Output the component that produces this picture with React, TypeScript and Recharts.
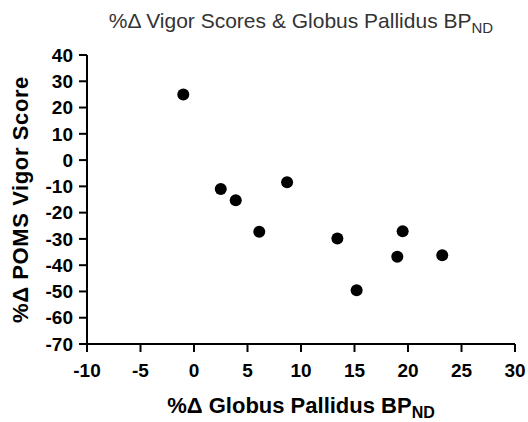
import React from 'react';
import { ScatterChart, Scatter, XAxis, YAxis, Label } from 'recharts';

// %Δ globus pallidus BPnd vs %Δ POMS vigor score
const bpChange = [-1.0, 2.5, 3.9, 6.1, 8.7, 13.4, 15.2, 19.0, 19.5, 23.2];
const vigorChange = [25, -11, -15.3, -27.3, -8.4, -29.8, -49.5, -36.8, -27.1, -36.2];

const xTicks = [-10, -5, 0, 5, 10, 15, 20, 25, 30];
const yTicks = [40, 30, 20, 10, 0, -10, -20, -30, -40, -50, -60, -70];

const points = bpChange.map((x, i) => ({ x, y: vigorChange[i] }));

const FONT = 'Arial, "Liberation Sans", sans-serif';
const tickStyle = { fill: '#000', fontSize: 19, fontWeight: 700, fontFamily: FONT };

const TitleLabel = (props: any) => {
  const { viewBox } = props;
  const cx = viewBox.x + viewBox.width / 2;
  return (
    <text x={cx} y={28} textAnchor="middle" fill="#333" fontSize={21} fontFamily={FONT}>
      %Δ Vigor Scores &amp; Globus Pallidus BP
      <tspan fontSize={15} dy={5}>ND</tspan>
    </text>
  );
};

const XTitle = (props: any) => {
  const { viewBox } = props;
  const cx = viewBox.x + viewBox.width / 2;
  return (
    <text x={cx} y={413} textAnchor="middle" fill="#000" fontSize={22} fontWeight={700} fontFamily={FONT}>
      %Δ Globus Pallidus BP
      <tspan fontSize={16} dy={5}>ND</tspan>
    </text>
  );
};

const YTitle = (props: any) => {
  const { viewBox } = props;
  const cy = viewBox.y + viewBox.height / 2;
  const cx = 28;
  return (
    <text
      x={cx}
      y={cy}
      transform={`rotate(-90, ${cx}, ${cy})`}
      textAnchor="middle"
      fill="#000"
      fontSize={22}
      fontWeight={700}
      letterSpacing={0.6}
      fontFamily={FONT}
    >
      %Δ POMS Vigor Score
    </text>
  );
};

export default function App() {
  return (
    <div style={{ position: 'absolute', left: 0, top: 0, background: '#fff' }}>
      <ScatterChart width={528} height={422} margin={{ top: 55, right: 13, bottom: 27, left: 27 }}>
        <XAxis
          type="number"
          dataKey="x"
          domain={[-10, 30]}
          ticks={xTicks}
          interval={0}
          tick={tickStyle}
          tickSize={8}
          tickMargin={12}
          axisLine={{ stroke: '#000', strokeWidth: 2 }}
          tickLine={{ stroke: '#000', strokeWidth: 2 }}
          height={51}
        >
          <Label content={XTitle} />
        </XAxis>
        <YAxis
          type="number"
          dataKey="y"
          domain={[-70, 40]}
          ticks={yTicks}
          interval={0}
          tick={tickStyle}
          tickSize={8}
          tickMargin={6}
          axisLine={{ stroke: '#000', strokeWidth: 2 }}
          tickLine={{ stroke: '#000', strokeWidth: 2 }}
          width={60}
        >
          <Label content={YTitle} />
        </YAxis>
        <Scatter
          data={points}
          fill="#000"
          shape={(p: any) => <circle cx={p.cx} cy={p.cy} r={6} fill="#000" />}
          isAnimationActive={false}
        >
          <Label content={TitleLabel} />
        </Scatter>
      </ScatterChart>
    </div>
  );
}
